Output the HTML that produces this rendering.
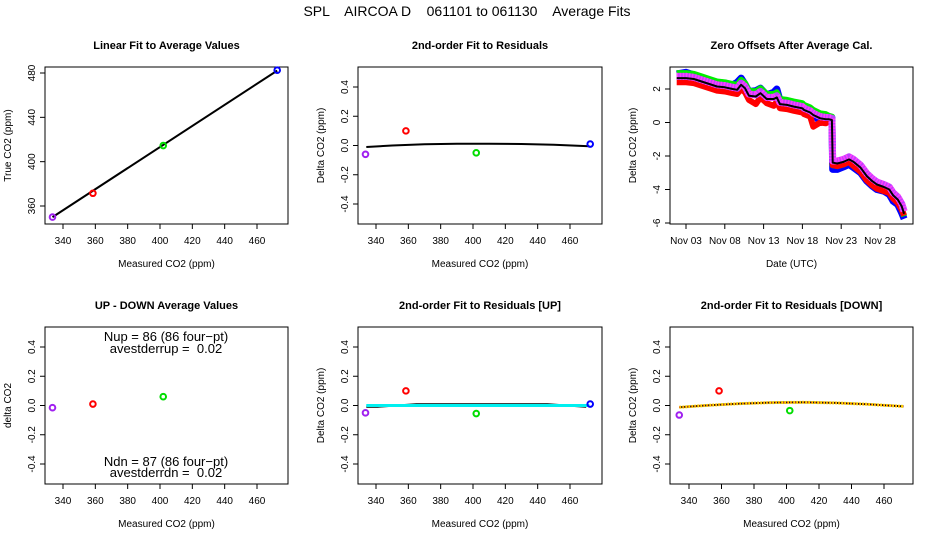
<!DOCTYPE html>
<html><head><meta charset="utf-8"><style>
html,body{margin:0;padding:0;background:#fff;width:936px;height:540px;overflow:hidden}
svg{display:block;font-family:"Liberation Sans",sans-serif}
.pre{white-space:pre}
</style></head><body>
<svg id="c" width="936" height="540" xmlns="http://www.w3.org/2000/svg">
<text class="pre" x="467" y="16" text-anchor="middle" font-size="14">SPL    AIRCOA D    061101 to 061130    Average Fits</text>
</svg>
<script>
// ---- data ----
const p1MeasX = [333.5, 358.5, 402, 472.5];
const p1TrueY = [350, 371.5, 414.5, 482.5];
const p1FitX = [333.5, 472.5];
const p1FitY = [350, 482.2];
const p2ResidX = [333.5, 358.5, 402, 472.5];
const p2ResidY = [-0.06, 0.10, -0.05, 0.01];
const p2FitX = [334, 350, 370, 390, 410, 430, 450, 472];
const p2FitY = [-0.01, 0.0, 0.008, 0.012, 0.012, 0.01, 0.005, -0.005];
const p4X = [333.5, 358.5, 402];
const p4Y = [-0.015, 0.01, 0.06];
const p5ResidX = [333.5, 358.5, 402, 472.5];
const p5ResidY = [-0.05, 0.10, -0.055, 0.01];
const p5FitX = [334, 472];
const p5FitY = [0.0, 0.0];
const p5BlackX = [334, 341, 365, 446, 470];
const p5BlackY = [-0.008, -0.008, 0.008, 0.008, -0.008];
const p6ResidX = [334, 358.5, 402];
const p6ResidY = [-0.065, 0.10, -0.035];
const p6FitX = [334, 350, 370, 390, 410, 430, 450, 472];
const p6FitY = [-0.012, 0.0, 0.012, 0.02, 0.022, 0.018, 0.008, -0.006];
const xTicks = [340, 360, 380, 400, 420, 440, 460];
const p1YTicks = [360, 400, 440, 480];
const residYTicks = [-0.4, -0.2, 0.0, 0.2, 0.4];
const p3YTicks = [-6, -4, -2, 0, 2];
const dateTicks = [3, 8, 13, 18, 23, 28];
const dateLabels = ["Nov 03", "Nov 08", "Nov 13", "Nov 18", "Nov 23", "Nov 28"];
const days = [1.8,3,4,5,6,7,8,9,9.6,10.1,10.6,11.1,12,12.6,13.4,14.3,14.7,15.1,16,16.9,18,18.2,19,19.4,20.3,21,21.4,21.8,21.9,22.5,23.3,24,24.6,25.5,26.3,27,27.6,28.5,29.2,29.7,30.3,30.8,31.1];
const zeroBlack = [2.65,2.65,2.6,2.45,2.3,2.15,2.1,2.0,1.95,2.25,2.05,1.6,1.55,1.75,1.4,1.4,1.5,1.1,1.05,0.95,0.85,0.75,0.6,0.45,0.25,0.2,0.2,0.15,-2.4,-2.45,-2.35,-2.2,-2.35,-2.7,-3.2,-3.5,-3.7,-3.85,-4.0,-4.35,-4.6,-5.0,-5.45];
const zeroPurple = [2.75,2.75,2.7,2.55,2.4,2.25,2.2,2.1,2.05,2.35,2.15,1.7,1.65,1.85,1.5,1.5,1.6,1.2,1.15,1.05,0.95,0.85,0.7,0.55,0.35,0.3,0.3,0.25,-2.3,-2.3,-2.2,-2.05,-2.2,-2.55,-3.05,-3.35,-3.55,-3.7,-3.85,-4.2,-4.45,-4.85,-5.3];
const zeroGreen = [2.95,2.95,2.9,2.75,2.6,2.45,2.4,2.3,2.25,2.55,2.35,1.9,1.85,2.05,1.7,1.7,1.8,1.4,1.35,1.25,1.15,1.05,0.9,0.75,0.55,0.5,0.4,0.35,-2.55,-2.6,-2.5,-2.35,-2.5,-2.85,-3.35,-3.65,-3.85,-4.0,-4.15,-4.5,-4.75,-5.15,-5.6];
const zeroBlue = [2.9,3.0,2.85,2.7,2.55,2.4,2.35,2.25,2.4,2.65,2.3,1.85,1.9,2.05,1.65,1.8,2.0,1.35,1.3,1.2,1.05,0.95,0.8,0.6,0.0,0.1,0.3,0.3,-2.8,-2.8,-2.65,-2.5,-2.7,-3.0,-3.5,-3.8,-4.0,-4.1,-4.3,-4.7,-4.9,-5.4,-5.75];
const zeroRed = [2.4,2.4,2.35,2.2,2.05,1.9,1.85,1.75,1.7,2.0,1.8,1.35,1.1,1.5,1.15,1.0,1.25,0.85,0.8,0.7,0.6,0.5,0.35,-0.25,0.0,-0.05,0.05,0.0,-2.55,-2.6,-2.5,-2.35,-2.6,-2.95,-3.45,-3.75,-3.95,-4.1,-4.2,-4.55,-4.8,-5.2,-5.55];
const ptColors4 = ["#a020f0", "red", "#00dd00", "blue"];

const svg = document.getElementById('c');
const NS = 'http://www.w3.org/2000/svg';
function el(tag, attrs, parent) {
  const e = document.createElementNS(NS, tag);
  for (const k in attrs) e.setAttribute(k, attrs[k]);
  (parent || svg).appendChild(e);
  return e;
}
function lin(d0, d1, r0, r1) { return v => r0 + (v - d0) * (r1 - r0) / (d1 - d0); }

function panel(name, L, T, R, B, title, xlab, ylab) {
  const g = el('g', {});
  
  
  const box = el('rect', {x: L, y: T, width: R - L, height: B - T, fill: 'none', stroke: '#000', 'stroke-width': 1}, g);
  
  
  const t = el('text', {x: (L + R) / 2, y: T - 18, 'text-anchor': 'middle', 'font-size': 11, 'font-weight': 'bold'}, g);
  t.textContent = title;
  
  
  const xl = el('text', {x: (L + R) / 2, y: B + 43, 'text-anchor': 'middle', 'font-size': 10}, g);
  xl.textContent = xlab;
  
  
  const yl = el('text', {x: 0, y: 0, 'text-anchor': 'middle', 'font-size': 10, transform: `translate(${L - 34},${(T + B) / 2}) rotate(-90)`}, g);
  yl.textContent = ylab;
  
  
  return g;
}
function xAxis(g, sx, B, ticks, labels) {
  el('line', {x1: sx(ticks[0]), x2: sx(ticks[ticks.length - 1]), y1: B, y2: B, stroke: '#000'}, g);
  ticks.forEach((v, i) => {
    el('line', {x1: sx(v), x2: sx(v), y1: B, y2: B + 5, stroke: '#000'}, g);
    const t = el('text', {x: sx(v), y: B + 20, 'text-anchor': 'middle', 'font-size': 10}, g);
    t.textContent = labels ? labels[i] : String(v);
    
    
  });
}
function yAxis(g, sy, L, ticks, fmt) {
  ticks.forEach(v => {
    el('line', {x1: L - 5, x2: L, y1: sy(v), y2: sy(v), stroke: '#000'}, g);
    const t = el('text', {x: 0, y: 0, 'text-anchor': 'middle', 'font-size': 10, transform: `translate(${L - 10},${sy(v)}) rotate(-90)`}, g);
    t.textContent = fmt ? fmt(v) : String(v);
    
    
  });
}
function pts(g, xs, ys, sx, sy, cols) {
  xs.forEach((x, i) => {
    const c = el('circle', {cx: sx(x), cy: sy(ys[i]), r: 2.8, fill: 'none', stroke: cols[i], 'stroke-width': 2}, g);
    
    
  });
}
function poly(g, xs, ys, sx, sy, col, w, dash) {
  const d = xs.map((x, i) => (i ? 'L' : 'M') + sx(x).toFixed(1) + ',' + sy(ys[i]).toFixed(1)).join('');
  const p = el('path', {d: d, fill: 'none', stroke: col, 'stroke-width': w, 'stroke-linejoin': 'round'}, g);
  if (dash) p.setAttribute('stroke-dasharray', dash);
  
  
  return p;
}
const f1 = v => v.toFixed(1);
const cols = [[45, 288], [358, 602], [670, 913]];
const rows = [[67, 224], [327, 484]];
function sxCO2(L) { return lin(340, 460, L + 18, L + 212); }
function syResid(T) { return lin(0.4, -0.4, T + 20, T + 137); }

// Panel 1
{
  const [L, R] = cols[0], [T, B] = rows[0];
  const g = panel('linear-fit-panel', L, T, R, B, 'Linear Fit to Average Values', 'Measured CO2 (ppm)', 'True CO2 (ppm)');
  const sx = sxCO2(L), sy = lin(480, 360, T + 6, T + 139);
  xAxis(g, sx, B, xTicks); yAxis(g, sy, L, p1YTicks);
  poly(g, p1FitX, p1FitY, sx, sy, '#000', 2);
  pts(g, p1MeasX, p1TrueY, sx, sy, ptColors4);
}
// Panel 2
{
  const [L, R] = cols[1], [T, B] = rows[0];
  const g = panel('residual-fit-panel', L, T, R, B, '2nd-order Fit to Residuals', 'Measured CO2 (ppm)', 'Delta CO2 (ppm)');
  const sx = sxCO2(L), sy = syResid(T);
  xAxis(g, sx, B, xTicks); yAxis(g, sy, L, residYTicks, f1);
  poly(g, p2FitX, p2FitY, sx, sy, '#000', 2);
  pts(g, p2ResidX, p2ResidY, sx, sy, ptColors4);
}
// Panel 3
{
  const [L, R] = cols[2], [T, B] = rows[0];
  const g = panel('zero-offsets-panel', L, T, R, B, 'Zero Offsets After Average Cal.', 'Date (UTC)', 'Delta CO2 (ppm)');
  const sx = lin(3, 28, L + 16, L + 210), sy = lin(2, -6, T + 22, T + 156);
  xAxis(g, sx, B, dateTicks, dateLabels); yAxis(g, sy, L, p3YTicks);
  poly(g, days, zeroBlue, sx, sy, 'blue', 7);
  poly(g, days, zeroGreen, sx, sy, '#00ee00', 6);
  poly(g, days, zeroRed, sx, sy, 'red', 6);
  poly(g, days, zeroPurple, sx, sy, '#c040ff', 7);
  poly(g, days, zeroPurple, sx, sy, '#ff40ff', 7, '1.5 1.5');
  poly(g, days, zeroBlack, sx, sy, '#000', 2);
}
// Panel 4
{
  const [L, R] = cols[0], [T, B] = rows[1];
  const g = panel('up-down-panel', L, T, R, B, 'UP - DOWN Average Values', 'Measured CO2 (ppm)', 'delta CO2');
  const sx = sxCO2(L), sy = syResid(T);
  xAxis(g, sx, B, xTicks); yAxis(g, sy, L, residYTicks, f1);
  pts(g, p4X, p4Y, sx, sy, ptColors4);
  const lines = [['Nup = 86 (86 four\u2212pt)', T + 14], ['avestderrup =  0.02', T + 26], ['Ndn = 87 (86 four\u2212pt)', T + 139], ['avestderrdn =  0.02', T + 150]];
  lines.forEach(([s, y]) => {
    const t = el('text', {x: L + 121, y: y, 'text-anchor': 'middle', 'font-size': 13, 'class': 'pre'}, g);
    t.textContent = s;
    
    
  });
}
// Panel 5
{
  const [L, R] = cols[1], [T, B] = rows[1];
  const g = panel('residual-up-panel', L, T, R, B, '2nd-order Fit to Residuals [UP]', 'Measured CO2 (ppm)', 'Delta CO2 (ppm)');
  const sx = sxCO2(L), sy = syResid(T);
  xAxis(g, sx, B, xTicks); yAxis(g, sy, L, residYTicks, f1);
  poly(g, p5BlackX, p5BlackY, sx, sy, '#000', 2);
  poly(g, p5FitX, p5FitY, sx, sy, '#00f0f0', 3);
  pts(g, p5ResidX, p5ResidY, sx, sy, ptColors4);
}
// Panel 6
{
  const [L, R] = cols[2], [T, B] = rows[1];
  const g = panel('residual-down-panel', L, T, R, B, '2nd-order Fit to Residuals [DOWN]', 'Measured CO2 (ppm)', 'Delta CO2 (ppm)');
  const sx = lin(340, 460, L + 19, L + 214), sy = syResid(T);
  xAxis(g, sx, B, xTicks); yAxis(g, sy, L, residYTicks, f1);
  poly(g, p6FitX, p6FitY, sx, sy, '#000', 2);
  poly(g, p6FitX, p6FitY, sx, sy, '#ffd000', 3, '2 1');
  poly(g, p6FitX, p6FitY, sx, sy, '#ff3000', 1, '1 3');
  pts(g, p6ResidX, p6ResidY, sx, sy, ptColors4);
}
</script>
</body></html>
